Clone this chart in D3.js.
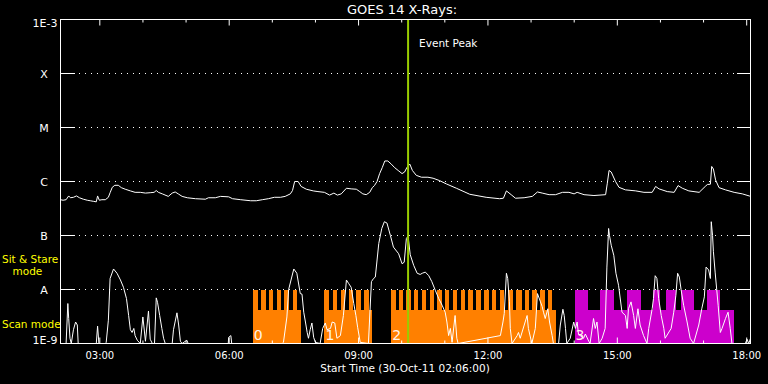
<!DOCTYPE html>
<html>
<head>
<script src="https://cdnjs.cloudflare.com/ajax/libs/d3/7.8.5/d3.min.js"></script>
<title>GOES 14 X-Rays</title>
<style>
    html, body {
        margin: 0;
        background-color: #000;
    }
    .chart {
        display: block;
        background-color: #000;
    }
    text {
        font-family: "DejaVu Sans", sans-serif;
        fill: #fff;
    }
</style>
</head>
<body>
<svg class="chart" width="768" height="384"></svg>
<script>

// time in hours (UT) on 30-Oct-11, flux in W/m^2
var longChannel = [
    [2.10,4.6e-7],[2.16,4.5e-7],[2.23,4.6e-7],[2.29,5.4e-7],[2.33,5.0e-7],[2.40,5.1e-7],[2.47,5.4e-7],
    [2.54,5.0e-7],[2.63,4.7e-7],[2.72,4.5e-7],[2.79,4.4e-7],[2.86,4.3e-7],[2.93,4.2e-7],[2.96,5.4e-7],
    [3.00,4.5e-7],[3.06,4.6e-7],[3.14,4.6e-7],[3.21,5.1e-7],[3.25,6.2e-7],[3.30,7.8e-7],[3.36,8.5e-7],
    [3.44,8.5e-7],[3.51,7.7e-7],[3.60,7.2e-7],[3.72,6.7e-7],[3.83,6.3e-7],[3.95,6.3e-7],[4.07,6.1e-7],
    [4.18,6.2e-7],[4.27,6.3e-7],[4.32,6.8e-7],[4.37,6.3e-7],[4.46,5.9e-7],[4.60,5.3e-7],[4.69,6.1e-7],
    [4.76,6.4e-7],[4.83,5.9e-7],[4.92,5.3e-7],[5.04,5.0e-7],[5.23,4.8e-7],[5.46,4.7e-7],[5.53,5.0e-7],
    [5.69,5.0e-7],[5.81,5.3e-7],[6.00,5.2e-7],[6.09,4.8e-7],[6.28,4.6e-7],[6.51,4.4e-7],[6.64,4.4e-7],
    [6.78,4.6e-7],[6.92,4.8e-7],[7.06,5.1e-7],[7.20,5.1e-7],[7.31,5.3e-7],[7.43,5.9e-7],[7.48,6.8e-7],
    [7.53,1.0e-6],[7.61,1.0e-6],[7.68,8.1e-7],[7.80,7.2e-7],[7.96,6.7e-7],[8.07,6.5e-7],[8.22,6.3e-7],
    [8.34,5.6e-7],[8.44,6.1e-7],[8.52,5.6e-7],[8.61,5.9e-7],[8.73,7.5e-7],[8.84,7.3e-7],[8.96,7.2e-7],
    [9.04,6.5e-7],[9.11,5.9e-7],[9.19,5.7e-7],[9.27,6.3e-7],[9.33,7.7e-7],[9.38,8.4e-7],[9.44,1.0e-6],
    [9.50,1.4e-6],[9.56,1.8e-6],[9.62,2.4e-6],[9.69,2.4e-6],[9.77,2.1e-6],[9.85,1.8e-6],[9.93,1.6e-6],
    [10.02,1.4e-6],[10.08,1.5e-6],[10.13,1.8e-6],[10.20,2.1e-6],[10.26,1.6e-6],[10.35,1.3e-6],
    [10.47,1.2e-6],[10.62,1.2e-6],[10.74,1.15e-6],[10.89,1.04e-6],[11.05,9.0e-7],[11.28,7.5e-7],
    [11.59,5.8e-7],[11.97,5.1e-7],[12.28,4.8e-7],[12.37,4.9e-7],[12.44,6.7e-7],[12.55,5.7e-7],
    [12.65,4.9e-7],[12.85,5.0e-7],[13.04,5.3e-7],[13.16,6.4e-7],[13.27,6.1e-7],[13.43,5.7e-7],
    [13.58,5.7e-7],[13.74,6.3e-7],[13.89,6.3e-7],[14.01,5.9e-7],[14.08,6.3e-7],[14.24,5.7e-7],
    [14.47,5.5e-7],[14.74,5.7e-7],[14.78,9.3e-7],[14.82,1.6e-6],[14.87,1.5e-6],[14.97,1.0e-6],
    [15.05,7.8e-7],[15.20,7.0e-7],[15.44,6.7e-7],[15.63,6.3e-7],[15.82,6.3e-7],[15.90,8.1e-7],
    [15.98,7.3e-7],[16.17,6.5e-7],[16.33,6.3e-7],[16.42,8.4e-7],[16.52,7.5e-7],[16.67,6.7e-7],
    [16.91,6.3e-7],[17.05,8.1e-7],[17.10,8.8e-7],[17.17,8.9e-7],[17.20,1.9e-6],[17.24,1.7e-6],
    [17.29,1.07e-6],[17.37,7.7e-7],[17.52,7.0e-7],[17.72,6.3e-7],[17.91,5.9e-7],[18.07,5.4e-7],
    [18.10,5.3e-7]
];

var shortChannel = [
    [2.10,1e-9],[2.23,1e-9],[2.27,5.5e-9],[2.29,2.9e-9],[2.32,1.25e-9],[2.35,1e-9],[2.40,1.8e-9],
    [2.45,2.5e-9],[2.49,2.2e-9],[2.51,1e-9],[2.93,1e-9],[2.96,2.1e-9],[2.99,1e-9],
    [3.14,1e-9],[3.16,1.05e-9],[3.21,2.7e-9],[3.25,1.6e-8],[3.33,2.4e-8],[3.41,2.0e-8],[3.49,1.5e-8],
    [3.56,1.1e-8],[3.63,6.8e-9],[3.68,3.3e-9],[3.72,1.8e-9],[3.76,1.6e-9],[3.80,1.9e-9],[3.83,1.4e-9],
    [3.88,1.15e-9],[3.95,1e-9],[4.01,3.1e-9],[4.07,1.1e-9],[4.14,4.0e-9],[4.18,1.2e-9],[4.23,1e-9],
    [4.28,1e-9],[4.32,7.0e-9],[4.35,5.8e-9],[4.40,3.3e-9],[4.45,1.9e-9],[4.49,1.25e-9],[4.53,1e-9],
    [4.69,1e-9],[4.72,1.8e-9],[4.80,3.7e-9],[4.84,2.2e-9],[4.88,1.1e-9],[4.92,1e-9],[5.03,1.15e-9],
    [5.06,1e-9],[5.99,1e-9],[6.00,1.3e-9],[6.05,1.4e-9],[6.07,1e-9],
    [7.24,1e-9],[7.27,1.05e-9],[7.35,3.1e-9],[7.39,1.0e-8],[7.51,2.4e-8],[7.58,2.0e-8],[7.66,8.4e-9],
    [7.70,8.2e-9],[7.74,3.8e-9],[7.78,2.5e-9],[7.82,1.6e-9],[7.85,1.25e-9],[7.89,1.8e-9],[7.93,2.4e-9],
    [7.97,1.3e-9],[8.01,1.05e-9],[8.12,1e-9],[8.18,1.9e-9],[8.24,2.4e-9],[8.28,1.8e-9],[8.36,1.9e-9],
    [8.40,2.5e-9],[8.46,2.4e-9],[8.51,1.25e-9],[8.59,1.4e-9],[8.66,3.3e-9],[8.73,1.5e-8],[8.78,1.3e-8],
    [8.84,1.1e-8],[8.90,5.5e-9],[8.95,3.3e-9],[8.99,2.0e-9],[9.05,1.05e-9],[9.24,1e-9],[9.31,1.4e-8],
    [9.36,1.6e-8],[9.40,1.7e-8],[9.48,7.1e-8],[9.55,1.35e-7],[9.61,1.8e-7],[9.67,1.7e-7],[9.75,1.0e-7],
    [9.82,6.1e-8],[9.94,4.6e-8],[10.02,3.0e-8],[10.07,3.2e-8],[10.12,8.8e-8],[10.16,9.7e-8],
    [10.21,4.4e-8],[10.29,2.8e-8],[10.37,2.0e-8],[10.44,1.9e-8],[10.49,2.0e-8],[10.56,2.1e-8],
    [10.64,1.8e-8],[10.71,1.4e-8],[10.79,9.7e-9],[10.87,6.8e-9],[10.95,5.1e-9],[11.02,3.8e-9],
    [11.06,2.5e-9],[11.10,1.4e-9],[11.14,1.9e-9],[11.18,1.05e-9],[11.25,3.3e-9],[11.29,1.25e-9],
    [11.32,1e-9],[12.30,1.4e-9],[12.36,2.5e-9],[12.39,3.6e-9],[12.44,2.0e-8],[12.47,1.6e-8],
    [12.51,5.9e-9],[12.53,1.9e-9],[12.57,1e-9],[12.69,1.4e-9],[12.72,1.6e-9],[12.76,1.25e-9],
    [12.92,3.3e-9],[12.95,1.9e-9],[13.03,1e-9],[13.11,1.9e-9],[13.16,8.4e-9],[13.23,5.9e-9],
    [13.27,4.8e-9],[13.30,3.8e-9],[13.34,2.9e-9],[13.40,4.4e-9],[13.44,2.5e-9],[13.50,1.4e-9],
    [13.53,1e-9],[13.65,1e-9],[13.69,2.2e-9],[13.75,4.3e-9],[13.78,3.3e-9],[13.81,1.9e-9],[13.84,1e-9],
    [13.92,1.25e-9],[14.00,2.5e-9],[14.04,1.9e-9],[14.08,2.5e-9],[14.11,1.5e-9],[14.15,1.4e-9],
    [14.23,1.25e-9],[14.27,1.5e-9],[14.35,1.1e-9],[14.38,1e-9],[14.46,2.9e-9],[14.50,1.9e-9],
    [14.54,2.5e-9],[14.59,1e-9],[14.66,1.25e-9],[14.73,1.9e-9],[14.77,2.6e-8],[14.81,1.35e-7],
    [14.83,1.0e-7],[14.87,6.6e-8],[14.93,4.3e-8],[14.98,2.0e-8],[15.04,1.2e-8],[15.12,3.8e-9],
    [15.20,3.3e-9],[15.24,1.9e-9],[15.27,4.4e-9],[15.33,5.9e-9],[15.39,3.3e-9],[15.43,1.9e-9],
    [15.49,4.4e-9],[15.54,2.2e-9],[15.62,1.4e-9],[15.70,1e-9],[15.74,1.9e-9],[15.82,4.4e-9],
    [15.85,6.8e-9],[15.89,1.8e-8],[15.93,1.6e-8],[15.97,6.8e-9],[16.03,3.3e-9],[16.09,1.9e-9],
    [16.12,1.25e-9],[16.26,1.9e-9],[16.32,3.8e-9],[16.37,7.8e-9],[16.41,2.0e-8],[16.45,1.7e-8],
    [16.49,1.0e-8],[16.55,5.1e-9],[16.63,2.5e-9],[16.70,1.25e-9],[16.78,1e-9],[16.90,2.2e-9],
    [16.97,4.4e-9],[17.03,7.3e-9],[17.07,2.6e-8],[17.13,2.3e-8],[17.17,1.6e-8],[17.19,1.8e-7],
    [17.22,1.0e-7],[17.24,5.0e-8],[17.28,2.1e-8],[17.35,5.1e-9],[17.40,1.6e-9],[17.44,1.9e-9],
    [17.52,2.9e-9],[17.58,3.8e-9],[17.63,1.9e-9],[17.67,1e-9],[17.98,1e-9],[18.02,1.2e-9],
    [18.06,1e-9],[18.10,1.25e-9]
];

// SXI observing blocks (scan mode) and the sit & stare windows inside them
var blockLabels = ["0", "1", "2", "3"];
var blockStart = [6.56, 8.22, 9.77, 14.02];
var blockEnd = [7.68, 9.32, 13.59, 17.71];
var stareWindows = [
    [6.56,6.68],[6.76,6.86],[6.94,7.03],[7.11,7.21],[7.29,7.39],[7.48,7.58],
    [8.22,8.33],[8.41,8.52],[8.60,8.69],[8.78,8.88],[8.96,9.06],[9.14,9.25],
    [9.77,9.87],[9.95,10.04],[10.12,10.22],[10.30,10.40],[10.48,10.58],[10.66,10.76],[10.84,10.95],
    [11.02,11.12],[11.20,11.30],[11.38,11.49],[11.56,11.67],[11.74,11.84],[11.93,12.03],[12.11,12.21],
    [12.29,12.38],[12.47,12.59],[12.67,12.79],[12.86,12.96],[13.04,13.14],[13.23,13.34],[13.41,13.49],
    [14.02,14.34],[14.62,14.94],[15.24,15.57],[15.85,16.00],[16.15,16.37],[16.49,16.78],[17.08,17.40]
];

var yTickValues = [1e-9, 1e-8, 1e-7, 1e-6, 1e-5, 1e-4, 1e-3];
var yTickLabels = ["1E-9", "A", "B", "C", "M", "X", "1E-3"];
var xMajorHours = [3, 6, 9, 12, 15, 18];
var xMinorHours = [4, 5, 7, 8, 10, 11, 13, 14, 16, 17];
var eventPeak = 10.16;
var startHour = 2.1, endHour = 18.1;

// ---------------------------------------------------------------

var blockColors = ["#ff8000", "#ff8000", "#ff8000", "#cc00cc"];
var stareLevel = 1e-8, scanLevel = 4.2e-9;

var plotLeft = 60.5, plotRight = 750.5, plotTop = 19.5, plotBottom = 343.5;

var base = Date.UTC(2011, 9, 30);
function hourDate(h) {
    return new Date(base + h * 3600000);
}

var x = d3.scaleUtc()
    .domain([hourDate(startHour), hourDate(endHour)])
    .range([plotLeft, plotRight]);

var y = d3.scaleLog()
    .domain([1e-9, 1e-3])
    .range([plotBottom, plotTop])
    .clamp(true);

var svg = d3.select(".chart");

// dotted grid at the class levels
svg.append("g")
    .selectAll("line")
    .data(yTickValues.slice(1, -1))
    .enter()
    .append("line")
    .attr("x1", plotLeft)
    .attr("x2", plotRight)
    .attr("y1", function(d) { return y(d); })
    .attr("y2", function(d) { return y(d); })
    .attr("stroke", "#fff")
    .attr("stroke-dasharray", "1,5")
    .attr("shape-rendering", "crispEdges");

// scan mode blocks
svg.append("g")
    .selectAll("rect")
    .data(blockStart)
    .enter()
    .append("rect")
    .attr("x", function(d) { return x(hourDate(d)); })
    .attr("width", function(d, i) { return x(hourDate(blockEnd[i])) - x(hourDate(d)); })
    .attr("y", y(scanLevel))
    .attr("height", plotBottom - y(scanLevel))
    .attr("fill", function(d, i) { return blockColors[i]; })
    .attr("shape-rendering", "crispEdges");

// sit & stare windows
svg.append("g")
    .selectAll("rect")
    .data(stareWindows)
    .enter()
    .append("rect")
    .attr("x", function(d) { return x(hourDate(d[0])); })
    .attr("width", function(d) { return x(hourDate(d[1])) - x(hourDate(d[0])); })
    .attr("y", y(stareLevel))
    .attr("height", plotBottom - y(stareLevel))
    .attr("fill", function(d) { return blockColors[d3.bisectRight(blockStart, d[0]) - 1]; })
    .attr("shape-rendering", "crispEdges");

svg.append("g")
    .selectAll("text")
    .data(blockLabels)
    .enter()
    .append("text")
    .attr("x", function(d, i) { return x(hourDate(blockStart[i])) + 1; })
    .attr("y", plotBottom - 4)
    .attr("font-size", 14)
    .style("fill", "#fff4ea")
    .text(function(d) { return d; });

// flux curves
var line = d3.line()
    .x(function(d) { return x(hourDate(d[0])); })
    .y(function(d) { return y(d[1]); });

svg.append("path")
    .datum(shortChannel)
    .attr("d", line)
    .attr("fill", "none")
    .attr("stroke", "#fff")
    .attr("stroke-width", 1);

svg.append("path")
    .datum(longChannel)
    .attr("d", line)
    .attr("fill", "none")
    .attr("stroke", "#fff")
    .attr("stroke-width", 1);

// event peak marker
var xPeak = x(hourDate(eventPeak));
svg.append("line")
    .attr("x1", xPeak)
    .attr("x2", xPeak)
    .attr("y1", plotTop)
    .attr("y2", plotBottom)
    .attr("stroke", "#99cc00")
    .attr("stroke-width", 2);

svg.append("text")
    .attr("x", xPeak + 11)
    .attr("y", 47)
    .attr("font-size", 10.5)
    .text("Event Peak");

// frame
svg.append("rect")
    .attr("x", plotLeft)
    .attr("y", plotTop)
    .attr("width", plotRight - plotLeft)
    .attr("height", plotBottom - plotTop)
    .attr("fill", "none")
    .attr("stroke", "#fff")
    .attr("shape-rendering", "crispEdges");

// y ticks on both sides
var yTicks = svg.append("g")
    .attr("stroke", "#fff")
    .attr("shape-rendering", "crispEdges");
yTicks.selectAll(".tl")
    .data(yTickValues)
    .enter()
    .append("line")
    .attr("x1", plotLeft)
    .attr("x2", plotLeft + 14)
    .attr("y1", function(d) { return y(d); })
    .attr("y2", function(d) { return y(d); });
yTicks.selectAll(".tr")
    .data(yTickValues)
    .enter()
    .append("line")
    .attr("x1", plotRight - 14)
    .attr("x2", plotRight)
    .attr("y1", function(d) { return y(d); })
    .attr("y2", function(d) { return y(d); });

svg.append("g")
    .selectAll("text")
    .data(yTickValues)
    .enter()
    .append("text")
    .attr("font-size", 11)
    .attr("text-anchor", function(d, i) { return yTickLabels[i].length > 1 ? "end" : "middle"; })
    .attr("x", function(d, i) { return yTickLabels[i].length > 1 ? 57.5 : 44; })
    .attr("y", function(d) { return Math.min(Math.max(y(d) + 4, plotTop + 7.5), plotBottom); })
    .text(function(d, i) { return yTickLabels[i]; });

// x ticks, top and bottom, pointing inward
function timeAxis(axis, hours, size, ty, labels) {
    var g = svg.append("g")
        .attr("transform", "translate(0," + ty + ")")
        .call(axis(x)
            .tickValues(hours.map(hourDate))
            .tickSizeInner(-size)
            .tickSizeOuter(0)
            .tickPadding(8)
            .tickFormat(labels ? d3.utcFormat("%H:%M") : ""));
    g.select(".domain").remove();
    g.selectAll("line").attr("stroke", "#fff");
    g.selectAll("text")
        .attr("font-size", 10)
        .attr("font-family", "DejaVu Sans, sans-serif")
        .style("fill", "#fff");
}
timeAxis(d3.axisTop, xMinorHours, 3, plotTop, false);
timeAxis(d3.axisTop, xMajorHours, 6, plotTop, false);
timeAxis(d3.axisBottom, xMinorHours, 3, plotBottom, false);
timeAxis(d3.axisBottom, xMajorHours, 6, plotBottom, true);

// titles
svg.append("text")
    .attr("x", 402)
    .attr("y", 14)
    .attr("text-anchor", "middle")
    .attr("font-size", 13)
    .text("GOES 14 X-Rays:");

svg.append("text")
    .attr("x", 405)
    .attr("y", 372)
    .attr("text-anchor", "middle")
    .attr("font-size", 10.5)
    .text("Start Time (30-Oct-11 02:06:00)");

var modeText = svg.append("g")
    .attr("font-size", 10.5);
modeText.append("text").attr("x", 2).attr("y", 263).style("fill", "#ffff00").text("Sit & Stare");
modeText.append("text").attr("x", 12.5).attr("y", 274.5).style("fill", "#ffff00").text("mode");
modeText.append("text").attr("x", 2).attr("y", 328).style("fill", "#ffff00").text("Scan mode");

</script>
</body>
</html>
